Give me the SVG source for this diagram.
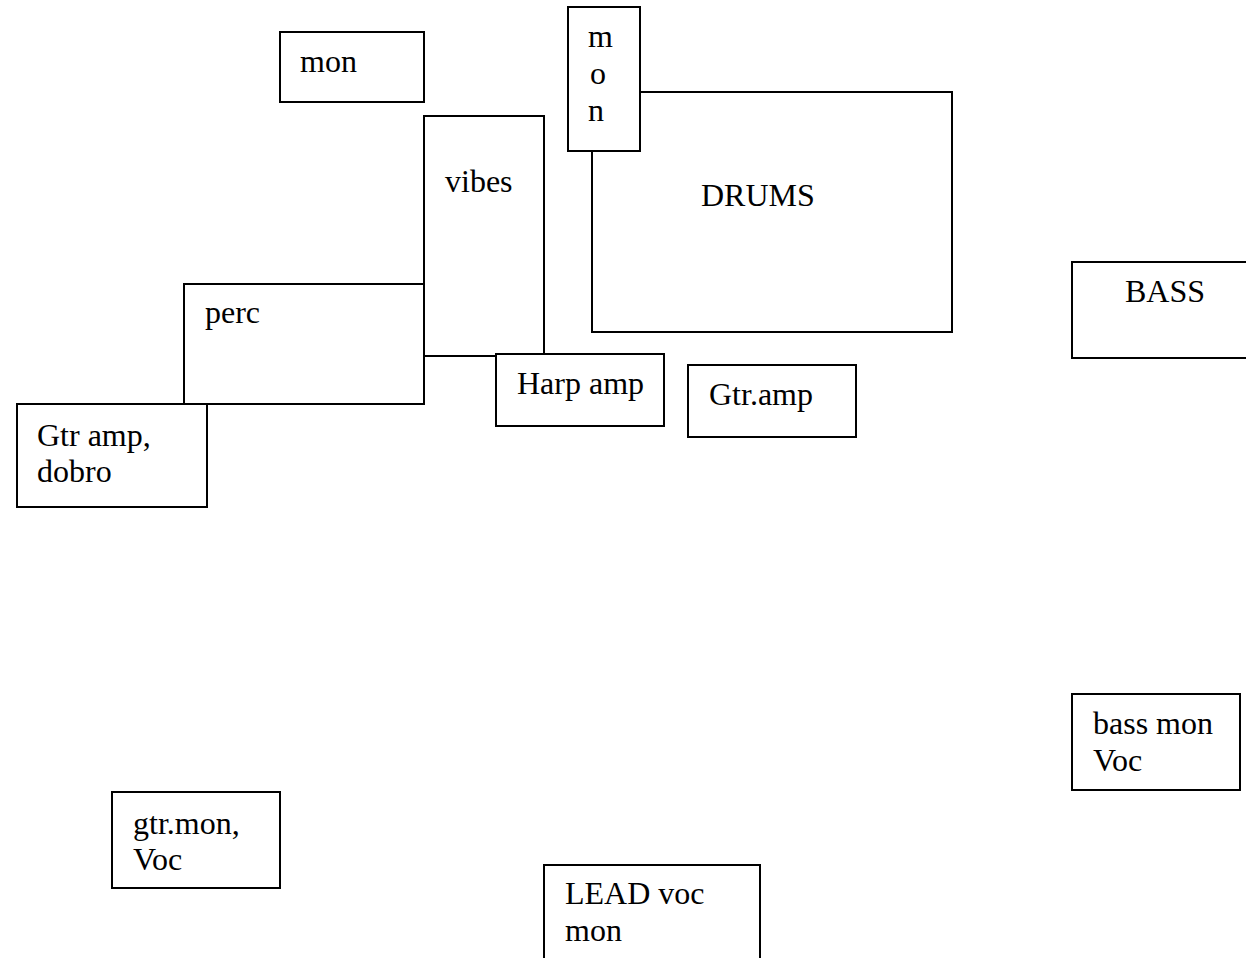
<svg xmlns="http://www.w3.org/2000/svg" width="1246" height="958" viewBox="0 0 1246 958">
<style>
rect{fill:#fff;stroke:#000;stroke-width:2}
text{font-family:"Liberation Serif","Times New Roman",serif;font-size:32px;fill:#000}
</style>
<rect x="0" y="0" width="1246" height="958" style="stroke:none"/>
<g id="connectors"></g>
<g id="mon-top"><rect x="280" y="32" width="144" height="70"/><text x="300" y="72">mon</text></g>
<g id="drums"><rect x="592" y="92" width="360" height="240"/><text x="701" y="206">DRUMS</text></g>
<g id="mon-vertical"><rect x="568" y="7" width="72" height="144"/><text x="588" y="47">m</text><text x="590" y="84">o</text><text x="588" y="121">n</text></g>
<g id="vibes"><rect x="424" y="116" width="120" height="240"/><text x="445" y="192">vibes</text></g>
<g id="perc"><rect x="184" y="284" width="240" height="120"/><text x="205" y="323">perc</text></g>
<g id="gtr-amp-dobro"><rect x="17" y="404" width="190" height="103"/><text x="37" y="446">Gtr amp,</text><text x="37" y="482">dobro</text></g>
<g id="harp-amp"><rect x="496" y="354" width="168" height="72"/><text x="517" y="394">Harp amp</text></g>
<g id="gtr-amp"><rect x="688" y="365" width="168" height="72"/><text x="709" y="405">Gtr.amp</text></g>
<g id="bass"><rect x="1072" y="262" width="200" height="96"/><text x="1125" y="302">BASS</text></g>
<g id="bass-mon"><rect x="1072" y="694" width="168" height="96"/><text x="1093" y="734">bass mon</text><text x="1093" y="771">Voc</text></g>
<g id="gtr-mon"><rect x="112" y="792" width="168" height="96"/><text x="133" y="834">gtr.mon,</text><text x="133" y="870">Voc</text></g>
<g id="lead-voc-mon"><rect x="544" y="865" width="216" height="120"/><text x="565" y="904">LEAD voc</text><text x="565" y="941">mon</text></g>
</svg>
